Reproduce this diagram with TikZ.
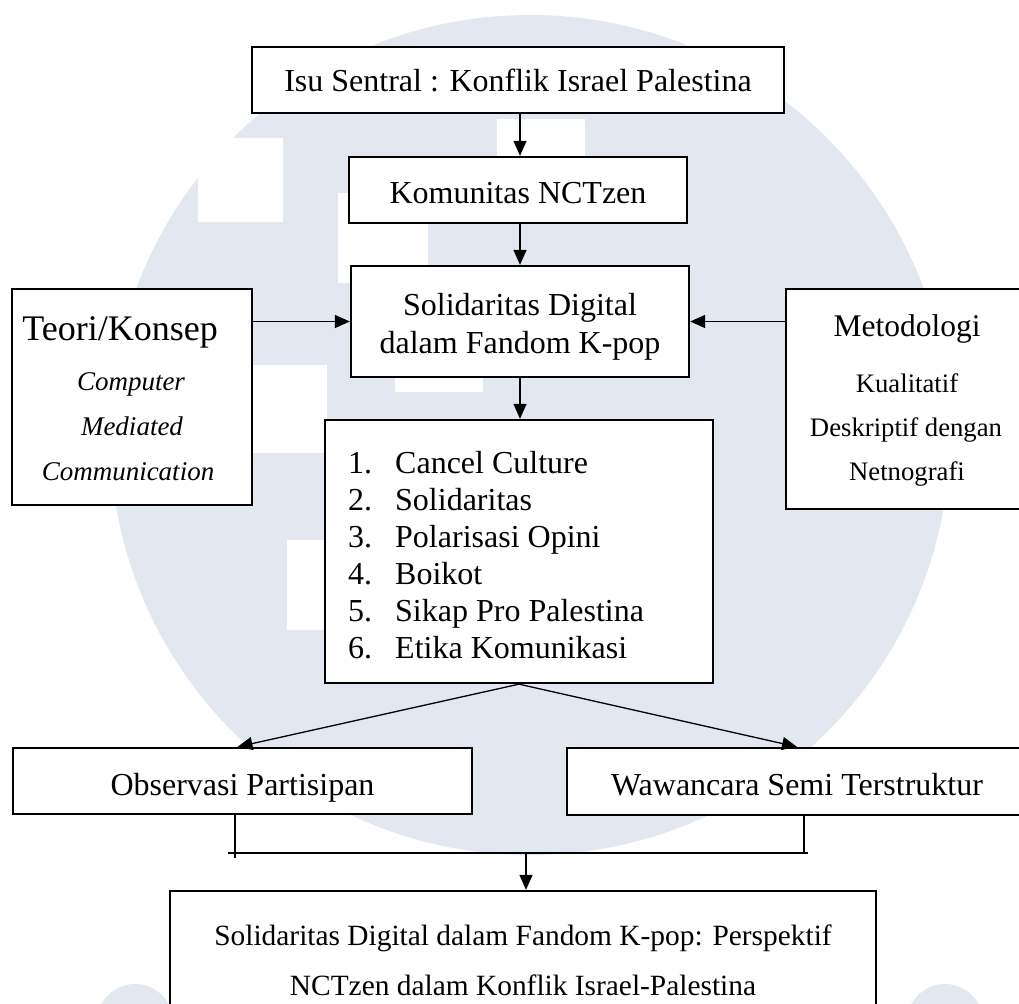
\documentclass[tikz,border=0pt]{standalone}
\usepackage{fontspec}
\setmainfont{Liberation Serif}
\usetikzlibrary{arrows.meta}
\definecolor{wm}{RGB}{227,231,240}
\begin{document}
\begin{tikzpicture}[x=1pt,y=-1pt,
  box/.style={draw, line width=2.3pt, fill=white, rectangle, inner sep=0pt},
  txt/.style={inner sep=0pt, anchor=base},
  txtl/.style={inner sep=0pt, anchor=base west},
  arr/.style={line width=1.3pt, -{Triangle[length=15pt,width=13pt]}},
  ln/.style={line width=1.3pt},
  fmain/.style={font=\fontsize{32}{38}\selectfont},
  fbig/.style={font=\fontsize{36}{42}\selectfont},
  fmeto/.style={font=\fontsize{31.5}{38}\selectfont},
  fsmall/.style={font=\fontsize{26.7}{32}\selectfont},
  fital/.style={font=\fontsize{27}{32}\selectfont\itshape},
  ffin/.style={font=\fontsize{29.4}{35}\selectfont}]
\clip (0,0) rectangle (1019,1003);
\fill[white] (0,0) rectangle (1019,1003);
% watermark
\fill[wm] (530,435) circle (420);
\fill[wm] (135,1022) circle (38);
\fill[wm] (945,1022) circle (38);
\fill[white] (198,138) rectangle (283,222);
\fill[white] (338,193) rectangle (428,283);
\fill[white] (497,119) rectangle (585,160);
\fill[white] (395,365) rectangle (483,392);
\fill[white] (240,365) rectangle (327,453);
\fill[white] (287,540) rectangle (325,630);
% boxes
\node[box, minimum width=532pt, minimum height=66pt] (top) at (518,80) {};
\node[box, minimum width=338pt, minimum height=66pt] (nct) at (518,190) {};
\node[box, minimum width=338pt, minimum height=111pt] (sol) at (520,321.5) {};
\node[box, minimum width=388pt, minimum height=263pt] (list) at (519,551.5) {};
\node[box, minimum width=240pt, minimum height=216pt] (teori) at (132,397) {};
\node[box, minimum width=244pt, minimum height=220pt] (meto) at (908,399) {};
\node[box, minimum width=459pt, minimum height=66pt] (obs) at (242.5,781) {};
\node[box, minimum width=460pt, minimum height=67pt] (waw) at (797,781.5) {};
\node[box, minimum width=706pt, minimum height=120pt] (fin) at (523,951) {};
% texts
\node[txt, fmain] (ttop) at (518,92) {Isu Sentral : Konflik Israel Palestina};
\node[txt, fmain] (tnct) at (518,203) {Komunitas NCTzen};
\node[txt, fmain] (tsol1) at (520,315) {Solidaritas Digital};
\node[txt, fmain] (tsol2) at (520,353) {dalam Fandom K-pop};
\node[txtl, fmain] (n1) at (348,473) {1.};
\node[txtl, fmain] (n2) at (348,510) {2.};
\node[txtl, fmain] (n3) at (348,547) {3.};
\node[txtl, fmain] (n4) at (348,584) {4.};
\node[txtl, fmain] (n5) at (348,621) {5.};
\node[txtl, fmain] (n6) at (348,658) {6.};
\node[txtl, fmain] (l1) at (395,473) {Cancel Culture};
\node[txtl, fmain] (l2) at (395,510) {Solidaritas};
\node[txtl, fmain] (l3) at (395,547) {Polarisasi Opini};
\node[txtl, fmain] (l4) at (395,584) {Boikot};
\node[txtl, fmain] (l5) at (395,621) {Sikap Pro Palestina};
\node[txtl, fmain] (l6) at (395,658) {Etika Komunikasi};
\node[txt, fbig] (tteori) at (120,340) {Teori/Konsep};
\node[txt, fital] (tcomp) at (131,390) {Computer};
\node[txt, fital] (tmed) at (132,435) {Mediated};
\node[txt, fital] (tcomm) at (128,480) {Communication};
\node[txt, fmeto] (tmeto) at (907,336) {Metodologi};
\node[txt, fsmall] (tkual) at (907,392) {Kualitatif};
\node[txt, fsmall] (tdesk) at (906,436) {Deskriptif dengan};
\node[txt, fsmall] (tnet) at (907,480) {Netnografi};
\node[txt, fmain] (tobs) at (242.5,795) {Observasi Partisipan};
\node[txt, fmain] (twaw) at (797,795) {Wawancara Semi Terstruktur};
\node[txt, ffin] (tfin1) at (523,945) {Solidaritas Digital dalam Fandom K-pop: Perspektif};
\node[txt, ffin] (tfin2) at (523,995) {NCTzen dalam Konflik Israel-Palestina};
% connectors
\draw[arr] ([xshift=2pt]top.south) -- ([xshift=2pt]nct.north);
\draw[arr] ([xshift=2pt]nct.south) -- ([xshift=2pt]nct.south |- sol.north);
\draw[arr] (sol.south) -- (sol.south |- list.north);
\draw[arr] (teori.east |- sol.west) -- (sol.west);
\draw[arr] (meto.west |- sol.east) -- (sol.east);
\draw[arr] (list.south) -- ([xshift=-5pt]obs.north);
\draw[arr] (list.south) -- (waw.north);
\coordinate (bl) at (228,853);
\coordinate (br) at (808,853);
\coordinate (join) at (526,853);
\draw[ln] ([xshift=-7.5pt]obs.south) -- ([xshift=-7.5pt,yshift=-43pt]obs.south);
\draw[ln] ([xshift=7pt]waw.south) -- ([xshift=7pt,yshift=-37pt]waw.south);
\draw[line width=2pt] (bl) -- (br);
\draw[arr] (join) -- (join |- fin.north);
\end{tikzpicture}
\end{document}
